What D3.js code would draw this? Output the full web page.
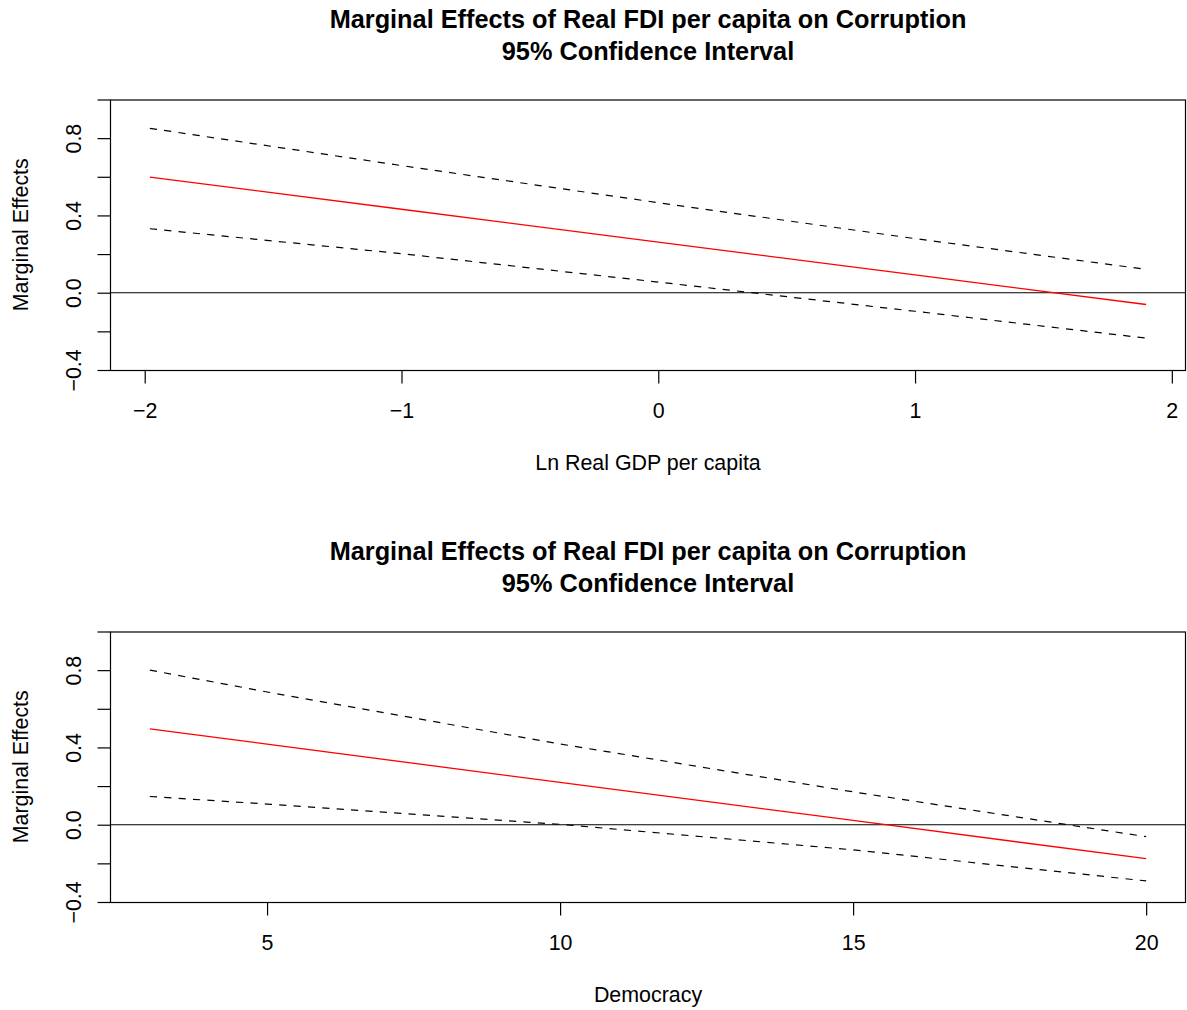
<!DOCTYPE html>
<html>
<head>
<meta charset="utf-8">
<script src="https://cdn.jsdelivr.net/npm/d3@7"></script>
<style>
  html, body { margin: 0; padding: 0; background: #fff; }
  svg { display: block; }
  text { font-family: "Liberation Sans", Arial, Helvetica, sans-serif; fill: #000; }
</style>
</head>
<body>
<svg id="chart" width="1187" height="1010"></svg>
<script>
// ---------- data ----------
const titleLines = ["Marginal Effects of Real FDI per capita on Corruption", "95% Confidence Interval"];
const yLabel = "Marginal Effects";

// Panel 1: Ln Real GDP per capita
const p1Label = "Ln Real GDP per capita";
const p1X      = [-1.98, -1, 0, 1, 1.90];
const p1Effect = [0.598, 0.432, 0.262, 0.092, -0.061];
const p1Upper  = [0.851, 0.658, 0.466, 0.280, 0.121];
const p1Lower  = [0.331, 0.202, 0.055, -0.096, -0.235];
const p1XTicks = [-2, -1, 0, 1, 2];

// Panel 2: Democracy
const p2Label = "Democracy";
const p2X      = [3, 5, 10, 15, 20];
const p2Effect = [0.496, 0.417, 0.219, 0.022, -0.176];
const p2Upper  = [0.800, 0.687, 0.418, 0.170, -0.062];
const p2Lower  = [0.146, 0.107, 0.002, -0.130, -0.291];
const p2XTicks = [5, 10, 15, 20];

const yDomain = [-0.4, 1.0];
const yTicks = [-0.4, -0.2, 0.0, 0.2, 0.4, 0.6, 0.8, 1.0];
const yTickLabels = ["−0.4", "", "0.0", "", "0.4", "", "0.8", ""];

// ---------- drawing ----------
const svg = d3.select("#chart");
const left = 110, right = 1186;
const fs = 21.4, titleFs = 25.3;

function fmtX(v) { return v < 0 ? "−" + Math.abs(v) : String(v); }

function panel(top, bottom, xs, eff, up, lo, xTicks, xLabel) {
  const g = svg.append("g");
  const lo0 = d3.min(xs), hi0 = d3.max(xs), r = hi0 - lo0;
  const x = d3.scaleLinear().domain([lo0 - 0.04 * r, hi0 + 0.04 * r]).range([left, right]);
  const y = d3.scaleLinear().domain(yDomain).range([bottom, top]);
  const cx = (left + right) / 2;

  // title
  titleLines.forEach((t, i) => {
    g.append("text").attr("x", cx).attr("y", top - 72 + i * 32)
      .attr("text-anchor", "middle").attr("font-weight", "bold")
      .attr("font-size", titleFs).text(t);
  });

  // zero line
  g.append("line").attr("x1", left).attr("x2", right)
    .attr("y1", y(0)).attr("y2", y(0))
    .attr("stroke", "#000").attr("stroke-width", 1.1);

  const line = d3.line().x((d, i) => x(xs[i])).y(d => y(d));
  g.append("path").datum(up).attr("d", line).attr("fill", "none")
    .attr("stroke", "#000").attr("stroke-width", 1.2).attr("stroke-dasharray", "7.2 7.2");
  g.append("path").datum(lo).attr("d", line).attr("fill", "none")
    .attr("stroke", "#000").attr("stroke-width", 1.2).attr("stroke-dasharray", "7.2 7.2");
  g.append("path").datum(eff).attr("d", line).attr("fill", "none")
    .attr("stroke", "#ff0000").attr("stroke-width", 1.3);

  // box
  g.append("rect").attr("x", left + 0.5).attr("y", top + 0.5)
    .attr("width", right - left - 1).attr("height", bottom - top)
    .attr("fill", "none").attr("stroke", "#000").attr("stroke-width", 1.2);

  // x axis
  const xa = g.append("g").attr("transform", `translate(0,${bottom + 0.5})`)
    .call(d3.axisBottom(x).tickValues(xTicks).tickSize(13).tickPadding(22).tickFormat(fmtX));
  xa.select(".domain").remove();
  xa.selectAll(".tick line").attr("stroke", "#000").attr("stroke-width", 1.2);
  xa.selectAll(".tick text").attr("font-size", fs).attr("font-family", null).attr("dy", null)
    .attr("y", 47.5);

  // y axis
  const ya = g.append("g").attr("transform", `translate(${left + 0.5},0)`)
    .call(d3.axisLeft(y).tickValues(yTicks).tickSize(13).tickFormat((d, i) => yTickLabels[i]));
  ya.select(".domain").remove();
  ya.selectAll(".tick line").attr("stroke", "#000").attr("stroke-width", 1.2);
  ya.selectAll(".tick text").attr("font-size", fs).attr("font-family", null)
    .attr("x", null).attr("dy", null)
    .attr("text-anchor", "middle")
    .attr("transform", "translate(-30,0) rotate(-90)");

  // axis titles
  g.append("text").attr("x", cx).attr("y", bottom + 100)
    .attr("text-anchor", "middle").attr("font-size", fs).text(xLabel);
  g.append("text").attr("transform", `translate(27.5,${(top + bottom) / 2}) rotate(-90)`)
    .attr("text-anchor", "middle").attr("font-size", fs).text(yLabel);
}

panel(99.5, 370, p1X, p1Effect, p1Upper, p1Lower, p1XTicks, p1Label);
panel(631.5, 902, p2X, p2Effect, p2Upper, p2Lower, p2XTicks, p2Label);
</script>
</body>
</html>
